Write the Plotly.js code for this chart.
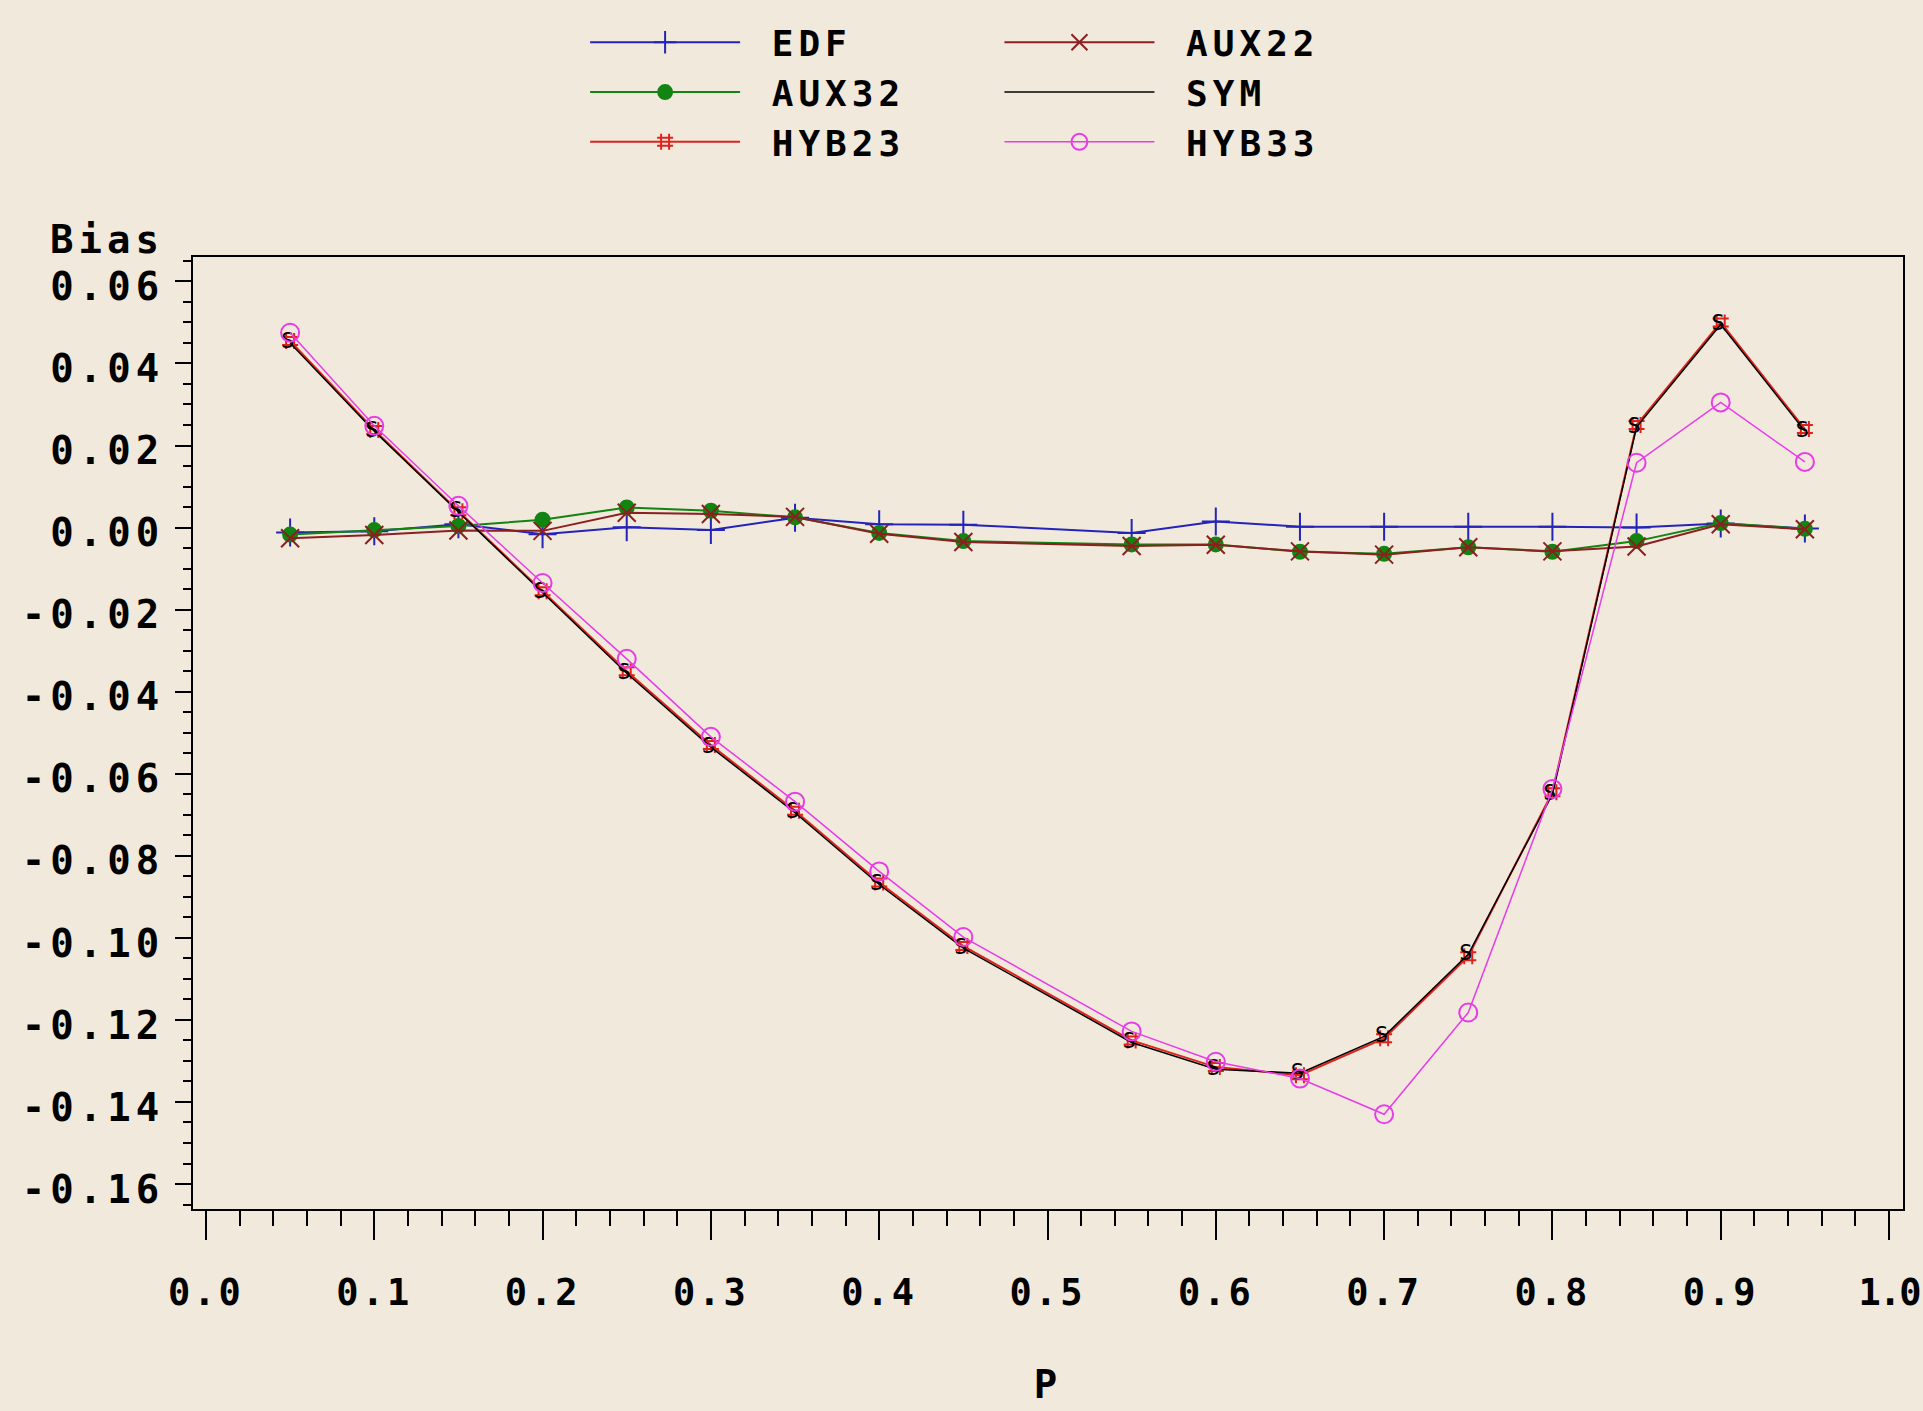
<!DOCTYPE html>
<html><head><meta charset="utf-8">
<script src="https://cdn.plot.ly/plotly-3.0.1.min.js"></script>
<style>
html,body{margin:0;padding:0;background:#f0e9dc;}
#chart{width:1923px;height:1411px;}
svg text {letter-spacing:5px;}
#chart .xtick text {letter-spacing:3px;}
#chart .xaxislayer-above .xtick:last-of-type text {letter-spacing:-2px;}
</style>
</head><body><div id="chart"></div>
<script>
// ---- data ----
const P = [0.05,0.10,0.15,0.20,0.25,0.30,0.35,0.40,0.45,0.55,0.60,0.65,0.70,0.75,0.80,0.85,0.90,0.95];
const EDF   = [-0.0012,-0.0009,0.0008,-0.0016,0.0001,-0.0006,0.0024,0.0008,0.0007,-0.0013,0.0015,0.0002,0.0002,0.0002,0.0002,0.0000,0.0010,-0.0002];
const AUX32 = [-0.0017,-0.0006,0.0004,0.0019,0.0049,0.0041,0.0025,-0.0013,-0.0033,-0.0041,-0.0041,-0.0059,-0.0064,-0.0048,-0.0059,-0.0033,0.0011,-0.0003];
const HYB23 = [0.0455,0.0238,0.0040,-0.0155,-0.0350,-0.0530,-0.0690,-0.0865,-0.1020,-0.1250,-0.1315,-0.1335,-0.1245,-0.1045,-0.0645,0.0250,0.0500,0.0240];
const AUX22 = [-0.0026,-0.0018,-0.0007,-0.0008,0.0036,0.0033,0.0026,-0.0015,-0.0035,-0.0045,-0.0042,-0.0058,-0.0066,-0.0048,-0.0058,-0.0046,0.0008,-0.0004];
const SYM   = [0.0450,0.0235,0.0038,-0.0158,-0.0355,-0.0535,-0.0695,-0.0870,-0.1025,-0.1255,-0.1320,-0.1330,-0.1240,-0.1040,-0.0650,0.0245,0.0495,0.0235];
const HYB33 = [0.0475,0.0248,0.0053,-0.0135,-0.0320,-0.0510,-0.0668,-0.0838,-0.0998,-0.1228,-0.1302,-0.1343,-0.1430,-0.1182,-0.0637,0.0158,0.0305,0.0160];
const yTickVals = [0.06,0.04,0.02,0.00,-0.02,-0.04,-0.06,-0.08,-0.10,-0.12,-0.14,-0.16];
const yTickText = ['0.06','0.04','0.02','0.00','-0.02','-0.04','-0.06','-0.08','-0.10','-0.12','-0.14','-0.16'];

const BG = '#f0e9dc';
const FONT = 'DejaVu Sans Mono';
const tickFont = {family: FONT, size: 39, color: '#000', weight: 'bold'};
const xTickFont = {family: FONT, size: 37, color: '#000', weight: 'bold'};
const NB = '\u00a0';

function series(name, y, color, symbol, size, lw, legend) {
  return {
    type: 'scatter', mode: 'lines+markers', name: NB + name, x: P, y: y, legend: legend,
    line: {color: color, width: lw},
    marker: {symbol: symbol, size: size, color: color, line: {color: color, width: 2}}
  };
}

const traces = [
  series('EDF', EDF, '#2424b8', 'cross-thin-open', 20, 2, 'legend'),
  series('AUX32', AUX32, '#128412', 'circle', 14, 2, 'legend'),
  series('HYB23', HYB23, '#e0221c', 'hash-open', 16, 2, 'legend'),
  series('AUX22', AUX22, '#8c1f1f', 'x-thin-open', 18, 2, 'legend2'),
  {type: 'scatter', mode: 'lines+text', name: NB + 'SYM', x: P, y: SYM, legend: 'legend2',
   text: P.map(() => 'S'), textposition: 'middle center',
   textfont: {family: FONT, size: 22, color: '#000'},
   line: {color: '#000', width: 1.5}},
  series('HYB33', HYB33, '#e83ce8', 'circle-open', 18, 1.5, 'legend2')
];

const legendCommon = {
  orientation: 'v', bgcolor: 'rgba(0,0,0,0)', borderwidth: 0,
  font: {family: FONT, size: 36, color: '#000', weight: 'bold'},
  itemwidth: 150, tracegroupgap: 0, yanchor: 'top', xanchor: 'left', y: 1.257
};

const layout = {
  width: 1923, height: 1411,
  paper_bgcolor: BG, plot_bgcolor: BG,
  margin: {l: 193, r: 20, t: 253, b: 202},
  showlegend: true,
  legend: Object.assign({}, legendCommon, {x: 0.2293}),
  legend2: Object.assign({}, legendCommon, {x: 0.4716}),
  xaxis: {
    range: [-0.0077, 1.0083], tick0: 0, dtick: 0.1, tickformat: '.1f',
    ticks: 'outside', ticklen: 29, tickwidth: 2, tickcolor: '#000',
    showline: true, linecolor: '#000', linewidth: 2, mirror: true,
    showgrid: false, zeroline: false, tickfont: xTickFont, ticklabelstandoff: 21,
    ticklabeloverflow: 'allow',
    minor: {dtick: 0.02, tick0: 0, ticks: 'outside', ticklen: 15, tickwidth: 2, tickcolor: '#000', showgrid: false},
    title: {text: 'P', font: tickFont, standoff: 57}
  },
  yaxis: {
    range: [-0.16609, 0.06595], tickmode: 'array', tickvals: yTickVals, ticktext: yTickText,
    ticks: 'outside', ticklen: 16, tickwidth: 2, tickcolor: '#000',
    showline: true, linecolor: '#000', linewidth: 2, mirror: true,
    showgrid: false, zeroline: false, tickfont: tickFont, ticklabelstandoff: 3, ticklabelshift: 5,
    minor: {tickmode: 'linear', tick0: 0, dtick: 0.005, ticks: 'outside', ticklen: 8, tickwidth: 2, tickcolor: '#000', showgrid: false}
  },
  annotations: [{
    text: 'Bias', xref: 'paper', yref: 'paper', x: -0.0846, y: 1.0185,
    xanchor: 'left', yanchor: 'middle', showarrow: false, font: tickFont
  }]
};

Plotly.newPlot('chart', traces, layout, {displayModeBar: false, staticPlot: true});
</script>
</body></html>
